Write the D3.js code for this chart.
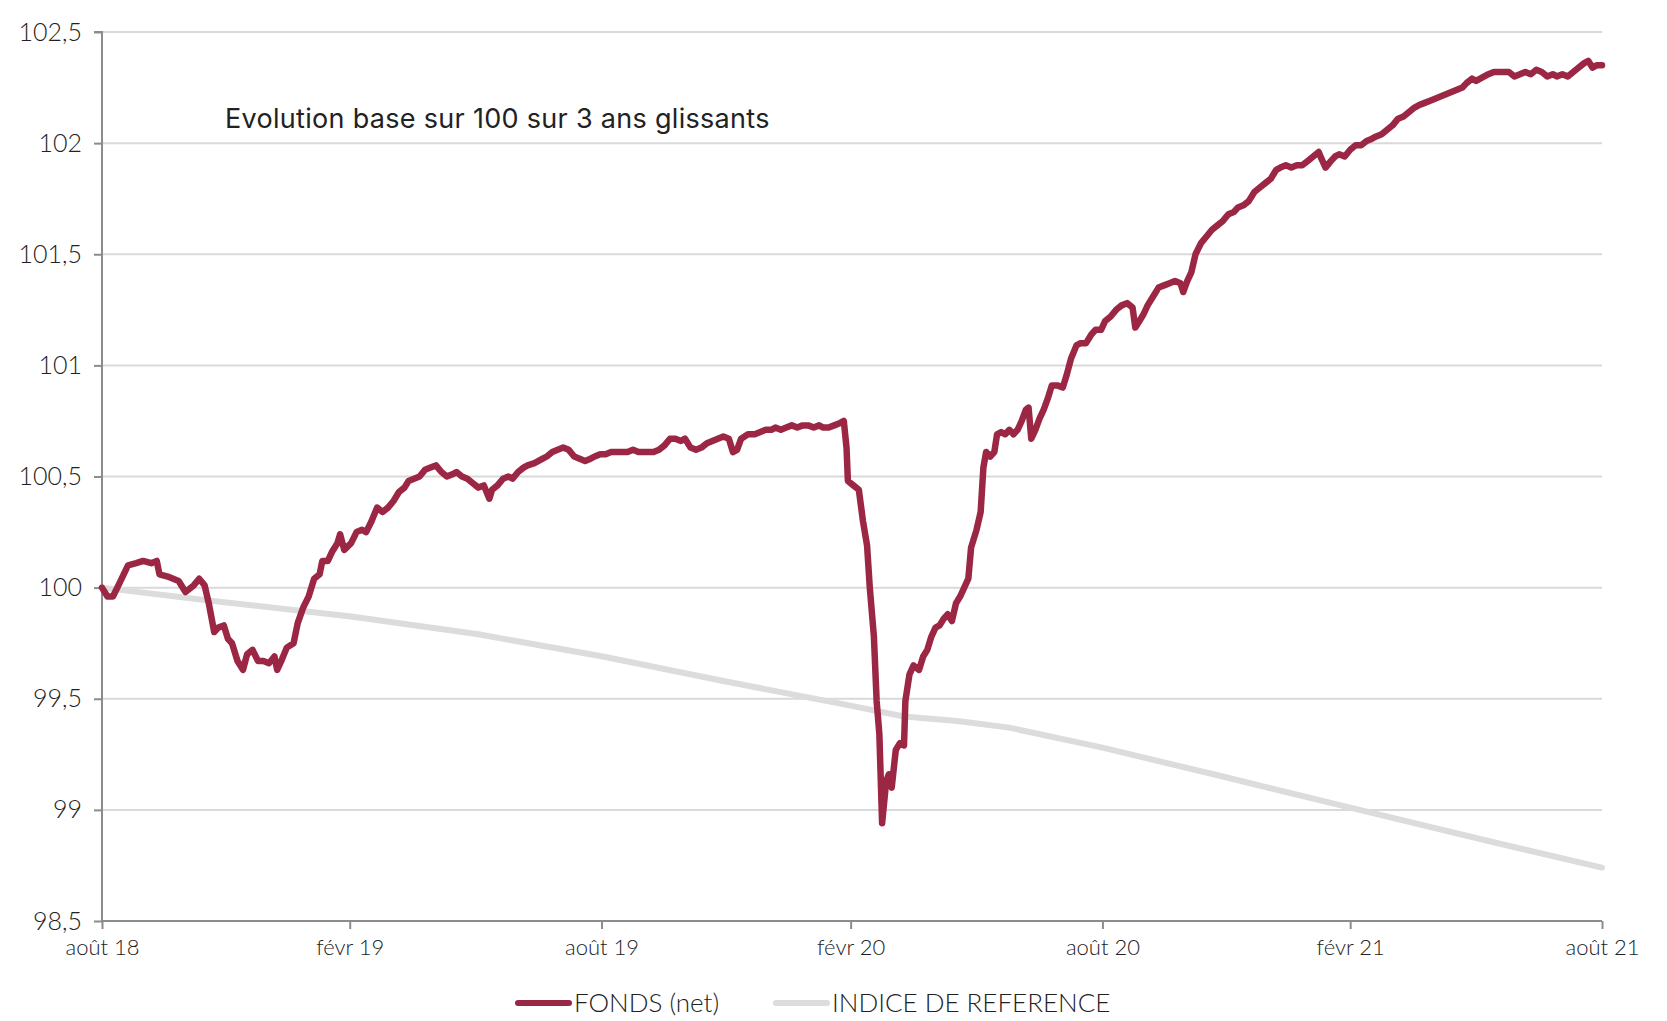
<!DOCTYPE html>
<html>
<head>
<meta charset="utf-8">
<script src="https://cdn.jsdelivr.net/npm/d3@7"></script>
<style>
  html, body { margin: 0; padding: 0; background: #fff; }
  #chart { width: 1667px; height: 1021px; overflow: hidden; }
  text { font-family: Lato, "Noto Sans", sans-serif; fill: #222; }
  text.title { font-family: Inter, Lato, sans-serif; letter-spacing: 0.3px; }
</style>
</head>
<body>
<div id="chart"></div>
<script>
// days since the first valuation date (31/08/2018) and the base-100 values
const startDate = '2018-08-31';

const fundDays = [0, 4, 8, 12, 19, 25, 30, 36, 40, 42, 48, 52, 56, 61, 67, 71, 75, 78, 82, 85, 89, 92, 95, 99, 103, 106, 110, 114, 118, 122, 126, 128, 131, 135, 140, 143, 147, 151, 155, 159, 161, 165, 168, 172, 174, 177, 182, 186, 190, 193, 197, 201, 205, 209, 213, 217, 221, 224, 228, 232, 236, 240, 244, 248, 252, 256, 259, 263, 267, 271, 275, 279, 283, 285, 289, 293, 297, 300, 304, 308, 311, 316, 322, 325, 329, 333, 337, 341, 345, 349, 353, 357, 360, 364, 368, 372, 376, 380, 384, 388, 392, 395, 399, 403, 407, 411, 415, 419, 423, 426, 430, 434, 438, 442, 446, 450, 454, 458, 461, 464, 467, 472, 477, 481, 485, 489, 492, 496, 500, 504, 508, 512, 516, 520, 524, 527, 531, 535, 539, 542, 544, 545, 549, 553, 556, 559, 561, 564, 566, 568, 570, 573, 575, 577, 580, 583, 586, 587, 590, 593, 597, 600, 603, 606, 609, 612, 615, 618, 621, 624, 627, 630, 633, 635, 639, 642, 644, 646, 649, 652, 654, 657, 660, 663, 666, 669, 672, 675, 677, 679, 682, 685, 688, 691, 694, 698, 702, 705, 708, 712, 715, 719, 723, 726, 730, 733, 737, 741, 745, 749, 753, 755, 758, 761, 764, 768, 772, 776, 780, 784, 788, 790, 793, 796, 799, 803, 807, 811, 815, 819, 823, 827, 830, 834, 838, 842, 846, 850, 854, 858, 861, 865, 869, 873, 877, 881, 885, 889, 891, 894, 898, 901, 904, 908, 912, 916, 920, 924, 928, 931, 935, 939, 943, 947, 951, 955, 959, 962, 966, 970, 974, 978, 982, 986, 990, 994, 997, 1001, 1004, 1007, 1010, 1013, 1017, 1021, 1025, 1028, 1032, 1036, 1040, 1044, 1048, 1052, 1056, 1060, 1063, 1067, 1071, 1075, 1079, 1083, 1086, 1089, 1092, 1096];

const fundValues = [100.00, 99.96, 99.96, 100.01, 100.10, 100.11, 100.12, 100.11, 100.12, 100.06, 100.05, 100.04, 100.03, 99.98, 100.01, 100.04, 100.01, 99.93, 99.80, 99.82, 99.83, 99.77, 99.75, 99.67, 99.63, 99.70, 99.72, 99.67, 99.67, 99.66, 99.69, 99.63, 99.67, 99.73, 99.75, 99.84, 99.91, 99.96, 100.04, 100.06, 100.12, 100.12, 100.16, 100.20, 100.24, 100.17, 100.20, 100.25, 100.26, 100.25, 100.30, 100.36, 100.34, 100.36, 100.39, 100.43, 100.45, 100.48, 100.49, 100.50, 100.53, 100.54, 100.55, 100.52, 100.50, 100.51, 100.52, 100.50, 100.49, 100.47, 100.45, 100.46, 100.40, 100.44, 100.46, 100.49, 100.50, 100.49, 100.52, 100.54, 100.55, 100.56, 100.58, 100.59, 100.61, 100.62, 100.63, 100.62, 100.59, 100.58, 100.57, 100.58, 100.59, 100.60, 100.60, 100.61, 100.61, 100.61, 100.61, 100.62, 100.61, 100.61, 100.61, 100.61, 100.62, 100.64, 100.67, 100.67, 100.66, 100.67, 100.63, 100.62, 100.63, 100.65, 100.66, 100.67, 100.68, 100.67, 100.61, 100.62, 100.67, 100.69, 100.69, 100.70, 100.71, 100.71, 100.72, 100.71, 100.72, 100.73, 100.72, 100.73, 100.73, 100.72, 100.73, 100.72, 100.72, 100.73, 100.74, 100.75, 100.63, 100.48, 100.46, 100.44, 100.30, 100.19, 100.00, 99.78, 99.49, 99.34, 98.94, 99.13, 99.16, 99.10, 99.27, 99.30, 99.29, 99.49, 99.61, 99.65, 99.63, 99.69, 99.72, 99.78, 99.82, 99.83, 99.86, 99.88, 99.85, 99.93, 99.96, 100.00, 100.04, 100.18, 100.26, 100.34, 100.54, 100.61, 100.59, 100.61, 100.69, 100.70, 100.69, 100.71, 100.69, 100.71, 100.75, 100.80, 100.81, 100.67, 100.71, 100.76, 100.80, 100.85, 100.91, 100.91, 100.90, 100.96, 101.03, 101.09, 101.10, 101.10, 101.14, 101.16, 101.16, 101.20, 101.22, 101.25, 101.27, 101.28, 101.26, 101.17, 101.20, 101.23, 101.27, 101.31, 101.35, 101.36, 101.37, 101.38, 101.37, 101.33, 101.38, 101.42, 101.50, 101.55, 101.58, 101.61, 101.63, 101.65, 101.68, 101.69, 101.71, 101.72, 101.74, 101.78, 101.80, 101.82, 101.84, 101.88, 101.89, 101.90, 101.89, 101.90, 101.90, 101.92, 101.94, 101.96, 101.93, 101.89, 101.92, 101.94, 101.95, 101.94, 101.97, 101.99, 101.99, 102.01, 102.02, 102.03, 102.04, 102.06, 102.08, 102.11, 102.12, 102.14, 102.16, 102.17, 102.18, 102.19, 102.20, 102.21, 102.22, 102.23, 102.24, 102.25, 102.27, 102.29, 102.28, 102.29, 102.30, 102.31, 102.32, 102.32, 102.32, 102.32, 102.30, 102.31, 102.32, 102.31, 102.33, 102.32, 102.30, 102.31, 102.30, 102.31, 102.30, 102.32, 102.34, 102.36, 102.37, 102.34, 102.35, 102.35];

const indexDays = [0, 81, 182, 275, 366, 454, 546, 586, 625, 663, 731, 819, 912, 1013, 1096];
const indexValues = [100.00, 99.94, 99.87, 99.79, 99.69, 99.58, 99.47, 99.42, 99.40, 99.37, 99.28, 99.15, 99.01, 98.86, 98.74];

const yTicks = [98.5, 99, 99.5, 100, 100.5, 101, 101.5, 102, 102.5];
const xTickDates = ['2018-08-31', '2019-02-28', '2019-08-31', '2020-02-29', '2020-08-31', '2021-02-28', '2021-08-31'];
const xTickLabels = ['août 18', 'févr 19', 'août 19', 'févr 20', 'août 20', 'févr 21', 'août 21'];

const seriesNames = ['FONDS (net)', 'INDICE DE REFERENCE'];
const seriesColours = ['#9c2744', '#dcdcdc'];
const title = 'Evolution base sur 100 sur 3 ans glissants';

const margin = { top: 32, right: 65, bottom: 100, left: 102 };
const width = 1667 - margin.left - margin.right;
const height = 1021 - margin.top - margin.bottom;

const parseDate = d3.timeParse('%Y-%m-%d');
const start = parseDate(startDate);
const toSeries = (days, vals) => days.map((d, i) => ({ date: d3.timeDay.offset(start, d), value: vals[i] }));

const series = [
  { name: seriesNames[0], values: toSeries(fundDays, fundValues) },
  { name: seriesNames[1], values: toSeries(indexDays, indexValues) }
];

const $svg = d3.select('#chart').append('svg')
  .attr('width', 1667)
  .attr('height', 1021);

const $plot = $svg.append('g')
  .attr('transform', `translate(${margin.left}, ${margin.top})`);

const x = d3.scaleTime()
  .domain([start, parseDate(xTickDates[xTickDates.length - 1])])
  .range([0, width]);

const y = d3.scaleLinear()
  .domain([98.5, 102.5])
  .range([height, 0]);

const fmt = d3.formatLocale({ decimal: ',', thousands: ' ', grouping: [3], currency: ['', ' €'] }).format('~f');

// grid
$plot.append('g')
  .attr('class', 'grid')
  .selectAll('line')
  .data(yTicks.slice(1))
  .join('line')
  .attr('x1', 0)
  .attr('x2', width)
  .attr('y1', d => y(d))
  .attr('y2', d => y(d))
  .attr('stroke', '#d9d9d9')
  .attr('stroke-width', 2);

const yAxis = d3.axisLeft(y)
  .tickValues(yTicks)
  .tickFormat(fmt)
  .tickSize(8)
  .tickPadding(12);

$plot.append('g')
  .attr('class', 'axis y')
  .call(yAxis)
  .call(g => g.selectAll('line, path').attr('stroke', '#8c8c8c').attr('stroke-width', 2))
  .call(g => g.select('.domain').attr('d', `M-8,0H0V${height}`))
  .call(g => g.selectAll('text')
    .attr('font-size', 25)
    .attr('font-weight', 300)
    .attr('fill', '#222'));

const xAxis = d3.axisBottom(x)
  .tickValues(xTickDates.map(parseDate))
  .tickFormat((d, i) => xTickLabels[i])
  .tickSize(8)
  .tickPadding(10);

$plot.append('g')
  .attr('class', 'axis x')
  .attr('transform', `translate(0, ${height})`)
  .call(xAxis)
  .call(g => g.selectAll('line, path').attr('stroke', '#8c8c8c').attr('stroke-width', 2))
  .call(g => g.select('.domain').attr('d', `M0,0H${width}`))
  .call(g => g.selectAll('text')
    .attr('font-size', 22)
    .attr('font-weight', 300)
    .attr('fill', '#222'));

const line = d3.line()
  .x(d => x(d.date))
  .y(d => y(d.value));

// reference first so the fund sits on top
$plot.selectAll('.series')
  .data(series.slice().reverse())
  .join('path')
  .attr('class', 'series')
  .attr('fill', 'none')
  .attr('stroke', d => seriesColours[seriesNames.indexOf(d.name)])
  .attr('stroke-width', d => d.name === seriesNames[0] ? 6.5 : 6)
  .attr('stroke-linejoin', 'round')
  .attr('stroke-linecap', 'round')
  .attr('d', d => line(d.values));

$plot.append('text')
  .attr('class', 'title')
  .attr('x', 123)
  .attr('y', 96)
  .attr('font-size', 27)
  .attr('font-weight', 400)
  .attr('fill', '#111')
  .text(title);

// legend
const legendX = [518, 776];
const $legend = $svg.append('g')
  .attr('class', 'legend')
  .selectAll('g')
  .data(seriesNames)
  .join('g')
  .attr('transform', (d, i) => `translate(${legendX[i]}, 1003)`);

$legend.append('line')
  .attr('x1', 0)
  .attr('x2', 51)
  .attr('stroke', (d, i) => seriesColours[i])
  .attr('stroke-width', 6)
  .attr('stroke-linecap', 'round');

$legend.append('text')
  .attr('x', 56)
  .attr('dy', '0.35em')
  .attr('font-size', 26)
  .attr('font-weight', 300)
  .attr('fill', '#222')
  .text(d => d);
</script>
</body>
</html>
